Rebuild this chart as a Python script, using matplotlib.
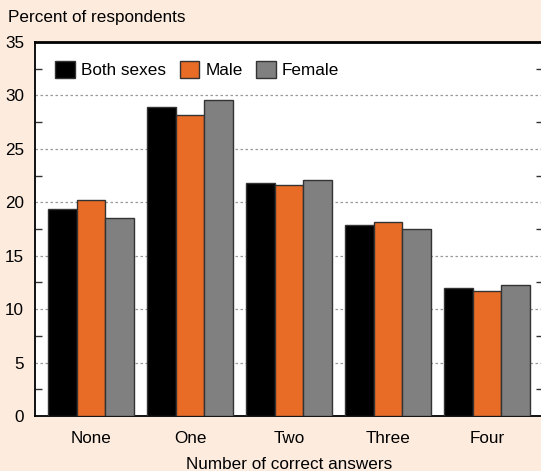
import numpy as np
import matplotlib
matplotlib.use('Agg')
import matplotlib.pyplot as plt
from matplotlib.ticker import MultipleLocator

plt.rcParams['font.family'] = ['Liberation Sans', 'DejaVu Sans']

# datos
categorias = ['None', 'One', 'Two', 'Three', 'Four']
ambos = [19.4, 28.9, 21.8, 17.9, 12.0]
hombres = [20.2, 28.2, 21.6, 18.2, 11.7]
mujeres = [18.5, 29.6, 22.1, 17.5, 12.3]
series = ['Both sexes', 'Male', 'Female']

fondo = '#fdebdd'
colores = ['#000000', '#e86c25', '#808080']
fs = 12.3

fig = plt.figure(figsize=(5.41, 4.71), dpi=100, facecolor=fondo)
ax = fig.add_axes([0.0647, 0.1168, 0.939, 0.794])
ax.set_facecolor('white')

x = np.arange(len(categorias))
ancho = 0.29
for i, (vals, color, nombre) in enumerate(zip([ambos, hombres, mujeres], colores, series)):
    ax.bar(x + (i - 1) * ancho, vals, ancho, color=color, edgecolor='#333333',
           linewidth=1.0, label=nombre, zorder=3)

ax.set_xlim(-0.566, 4.566)
ax.set_ylim(0, 35)
ax.set_xticks(x)
ax.set_xticklabels(categorias, fontsize=fs)
ax.yaxis.set_major_locator(MultipleLocator(5))
ax.yaxis.set_minor_locator(MultipleLocator(2.5))
ax.tick_params(axis='y', which='major', length=0, labelsize=fs, pad=8)
ax.tick_params(axis='y', which='minor', direction='in', length=5, width=1,
               left=True, right=True, color='#333333')
ax.tick_params(axis='x', length=0, labelsize=fs, pad=11)
ax.yaxis.grid(True, which='major', linestyle=(0, (2, 2)), color='#999999', linewidth=0.9, zorder=0)

for lado in ['left', 'bottom']:
    ax.spines[lado].set_linewidth(1.3)
ax.spines['top'].set_linewidth(2.0)
ax.spines['right'].set_visible(False)

ax.set_xlabel('Number of correct answers', fontsize=fs, labelpad=8)
fig.text(0.015, 0.962, 'Percent of respondents', fontsize=fs, va='center', ha='left')

ax.legend(loc='upper left', bbox_to_anchor=(0.01, 0.99), ncol=3, frameon=False,
          fontsize=fs, handlelength=1.15, handleheight=1.15, handletextpad=0.35,
          columnspacing=0.8)

fig.savefig('out.png', dpi=100, facecolor=fondo)
